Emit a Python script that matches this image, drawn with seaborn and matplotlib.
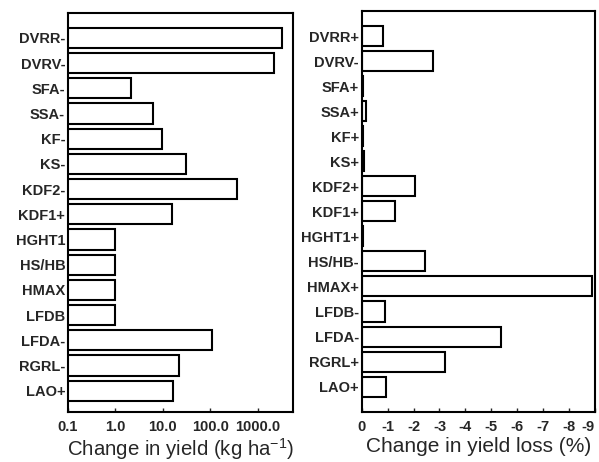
import matplotlib
matplotlib.use("Agg")
import matplotlib.pyplot as plt
import seaborn as sns
import pandas as pd

left_labels = ["DVRR-", "DVRV-", "SFA-", "SSA-", "KF-", "KS-", "KDF2-", "KDF1+",
               "HGHT1", "HS/HB", "HMAX", "LFDB", "LFDA-", "RGRL-", "LAO+"]
left_values = [3200, 2200, 2.1, 6.3, 9.7, 31, 370, 15.8,
               1.0, 1.0, 1.0, 1.0, 110, 22, 16.5]

right_labels = ["DVRR+", "DVRV-", "SFA+", "SSA+", "KF+", "KS+", "KDF2+", "KDF1+",
                "HGHT1+", "HS/HB-", "HMAX+", "LFDB-", "LFDA-", "RGRL+", "LAO+"]
right_values = [-0.81, -2.75, -0.03, -0.18, -0.05, -0.1, -2.04, -1.29,
                -0.05, -2.44, -8.9, -0.88, -5.36, -3.23, -0.92]

left_ticks = [0.1, 1, 10, 100, 1000]
left_ticklabels = ["0.1", "1.0", "10.0", "100.0", "1000.0"]
right_ticks = [0, -1, -2, -3, -4, -5, -6, -7, -8, -9]
right_ticklabels = ["0", "-1", "-2", "-3", "-4", "-5", "-6", "-7", "-8", "-9"]

sns.set_style("white")
plt.rcParams['font.family'] = ['Liberation Sans', 'DejaVu Sans']

fig = plt.figure(figsize=(5.99, 4.62), dpi=100)
ax1 = fig.add_axes([0.1135, 0.108, 0.3755, 0.8645])
ax2 = fig.add_axes([0.604, 0.109, 0.389, 0.867])

df_l = pd.DataFrame({"cat": left_labels, "val": left_values})
df_r = pd.DataFrame({"cat": right_labels, "val": right_values})

ax1.set_xscale("log")
sns.barplot(data=df_l, x="val", y="cat", orient="h", ax=ax1, color="white",
            edgecolor="black", linewidth=1.5, width=0.8, saturation=1)
sns.barplot(data=df_r, x="val", y="cat", orient="h", ax=ax2, color="white",
            edgecolor="black", linewidth=1.5, width=0.8, saturation=1)

ax1.set_xlim(0.1, 5500)
ax1.set_ylim(14.85, -1.0)
ax1.set_xticks(left_ticks)
ax1.set_xticklabels(left_ticklabels)
ax1.minorticks_off()
ax1.set_xlabel("Change in yield (kg ha$^{\\mathregular{-1}}$)", fontsize=14.7, labelpad=1)

ax2.set_xlim(0, -9)
ax2.set_ylim(15.0, -1.0)
ax2.set_xticks(right_ticks)
ax2.set_xticklabels(right_ticklabels)
ax2.set_xlabel("Change in yield loss (%)", fontsize=15, labelpad=2.5)

for ax in (ax1, ax2):
    ax.set_ylabel("")
    for s in ax.spines.values():
        s.set_visible(True)
        s.set_color("black")
        s.set_linewidth(1.5)
    ax.tick_params(axis="x", direction="in", length=3, width=1, bottom=True,
                   pad=6, labelsize=10.5)
    ax.tick_params(axis="y", length=0, pad=2, labelsize=10.5)
    for t in ax.get_xticklabels() + ax.get_yticklabels():
        t.set_fontweight("bold")

last = ax2.get_xticklabels()[-1]
last.set_horizontalalignment("right")

fig.savefig("out.png", dpi=100)
